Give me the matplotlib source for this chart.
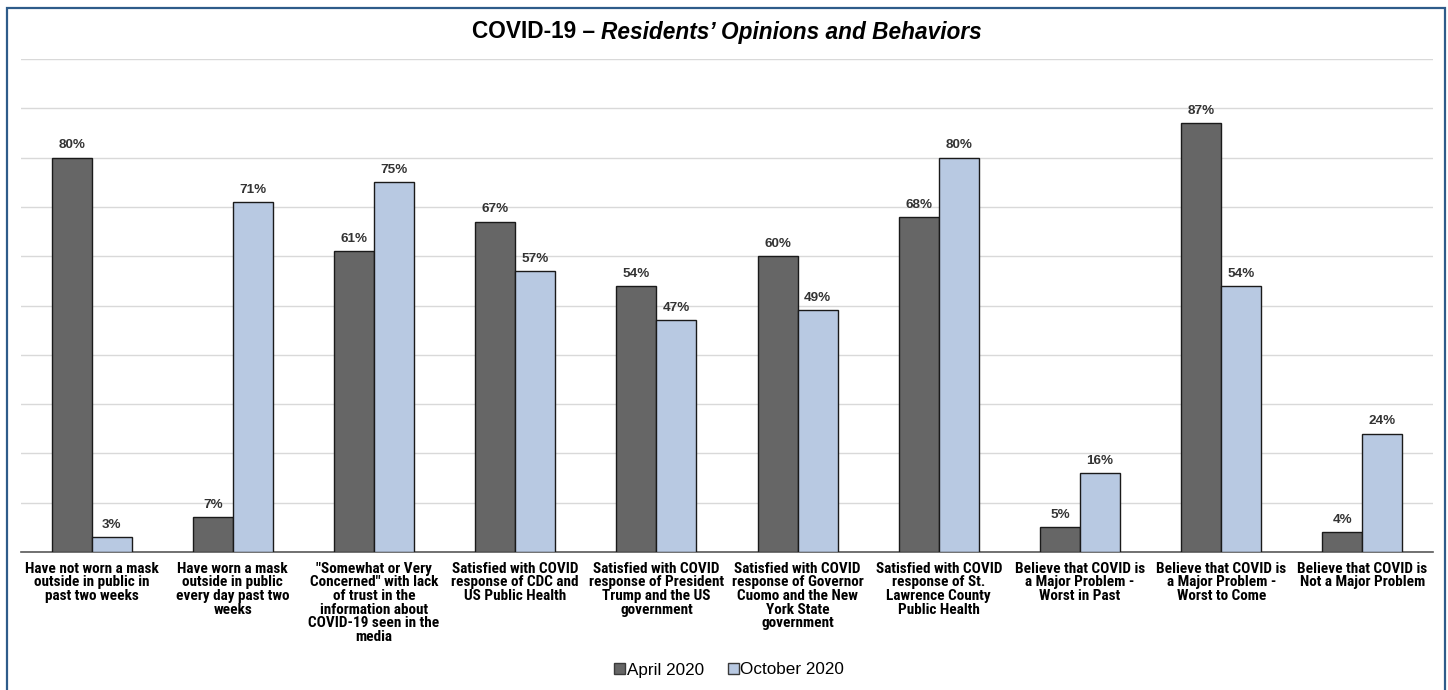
import matplotlib
matplotlib.use("Agg")
import matplotlib.pyplot as plt
from matplotlib.patches import Rectangle
import numpy as np

categories = [
    "Have not worn a mask\noutside in public in\npast two weeks",
    "Have worn a mask\noutside in public\nevery day past two\nweeks",
    "\"Somewhat or Very\nConcerned\" with lack\nof trust in the\ninformation about\nCOVID-19 seen in the\nmedia",
    "Satisfied with COVID\nresponse of CDC and\nUS Public Health",
    "Satisfied with COVID\nresponse of President\nTrump and the US\ngovernment",
    "Satisfied with COVID\nresponse of Governor\nCuomo and the New\nYork State\ngovernment",
    "Satisfied with COVID\nresponse of St.\nLawrence County\nPublic Health",
    "Believe that COVID is\na Major Problem -\nWorst in Past",
    "Believe that COVID is\na Major Problem -\nWorst to Come",
    "Believe that COVID is\nNot a Major Problem",
]
april_2020 = [80, 7, 61, 67, 54, 60, 68, 5, 87, 4]
october_2020 = [3, 71, 75, 57, 47, 49, 80, 16, 54, 24]
series_names = ["April 2020", "October 2020"]

narrow = ["Roboto Condensed", "Liberation Sans", "DejaVu Sans"]
sans = ["Liberation Sans", "DejaVu Sans"]

fig = plt.figure(figsize=(14.48, 6.9), dpi=100)
ax = fig.add_axes([21/1448, 1-552/690, (1433-21)/1448, (552-59)/690])

x = np.arange(len(categories))
w = 0.283
b1 = ax.bar(x - w/2, april_2020, w, color="#666666", edgecolor="#1a1a1a", linewidth=1, label=series_names[0], zorder=3)
b2 = ax.bar(x + w/2, october_2020, w, color="#B8C9E2", edgecolor="#1a1a1a", linewidth=1, label=series_names[1], zorder=3)

for bars, vals in ((b1, april_2020), (b2, october_2020)):
    for r, v in zip(bars, vals):
        ax.annotate(f"{v}%", (r.get_x() + r.get_width()/2, v), xytext=(0, 4.5),
                    textcoords="offset points", ha="center", va="bottom",
                    fontsize=9.7, fontweight="bold", color="#333333", family=sans)

ax.set_xlim(-0.5, len(categories) - 0.5)
ax.set_ylim(0, 100)
ax.set_yticks(np.arange(0, 101, 10))
ax.set_yticklabels([])
ax.tick_params(axis="y", length=0)
ax.grid(axis="y", color="#D9D9D9", linewidth=1, zorder=0)
ax.set_axisbelow(True)
for s in ("top", "right", "left"):
    ax.spines[s].set_visible(False)
ax.spines["bottom"].set_color("#595959")
ax.spines["bottom"].set_linewidth(1.2)

ax.set_xticks(x)
ax.set_xticklabels(categories, fontsize=11, fontweight="bold", family=narrow, linespacing=0.97)
ax.tick_params(axis="x", length=0, pad=7)

# title
t1 = fig.text(0, 0, "COVID-19 \u2013 ", fontsize=16.3, fontweight="bold", family=sans, va="center")
t2 = fig.text(0, 0, "Residents\u2019 Opinions and Behaviors", fontsize=16.3, fontweight="bold", style="italic", family=sans, va="center")
fig.canvas.draw()
r = fig.canvas.get_renderer()
w1 = t1.get_window_extent(r).width
w2 = t2.get_window_extent(r).width
start = (1448 - (w1 + w2)) / 2 + 3
t1.set_position((start/1448, 1-32/690))
t2.set_position(((start + w1)/1448, 1-32/690))

leg = fig.legend(handles=[b1, b2], labels=series_names, loc="center", bbox_to_anchor=(729/1448, 1-670/690),
                 ncol=2, frameon=False, prop={"family": sans, "size": 12.3},
                 handlelength=0.65, handleheight=0.65, handletextpad=0.1, columnspacing=1.4)
for h in leg.legend_handles:
    h.set_edgecolor("#3a3a3a")

fig.add_artist(Rectangle((7/1448, -0.01), (1445-7)/1448, 1-8/690+0.01, transform=fig.transFigure,
                         fill=False, edgecolor="#2E5C8A", linewidth=1.6))

fig.savefig("out.png", dpi=100)
